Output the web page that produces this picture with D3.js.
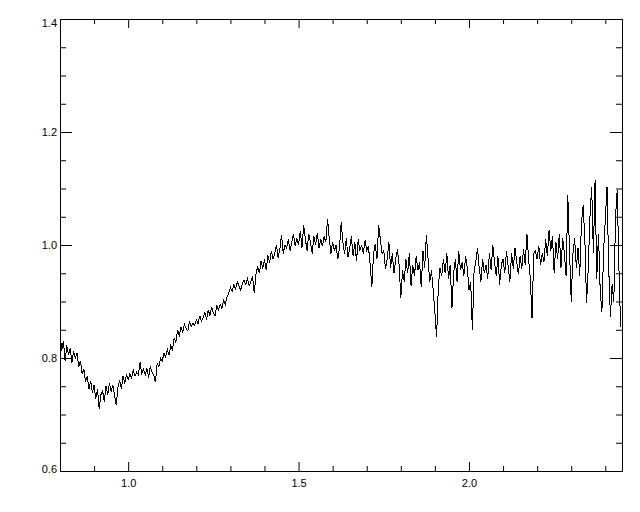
<!DOCTYPE html>
<html>
<head>
<meta charset="utf-8">
<script src="https://cdn.jsdelivr.net/npm/d3@7"></script>
<style>
  html, body { margin: 0; padding: 0; background: #fff; }
  svg { display: block; }
  .axis text { font-family: "Liberation Sans", Arial, sans-serif; font-size: 11px; fill: #000; }
  .axis line { stroke: #000; }
</style>
</head>
<body>
<svg width="640" height="512"></svg>
<script>
// wavelength grid: 0.800 .. 2.445, step 0.005
const xStart = 0.8, xStep = 0.005;

// flux values, 10 per 0.05 step
const flux = [
  0.848, 0.812, 0.830, 0.795, 0.822, 0.805, 0.818, 0.792, 0.812, 0.800,
  0.808, 0.785, 0.795, 0.772, 0.780, 0.758, 0.768, 0.745, 0.760, 0.738,
  0.752, 0.728, 0.745, 0.710, 0.735, 0.742, 0.722, 0.750, 0.735, 0.755,
  0.740, 0.752, 0.735, 0.717, 0.748, 0.760, 0.745, 0.768, 0.755, 0.770,
  0.762, 0.772, 0.765, 0.778, 0.768, 0.775, 0.770, 0.792, 0.772, 0.780,
  0.770, 0.782, 0.765, 0.785, 0.775, 0.770, 0.757, 0.790, 0.785, 0.800,
  0.795, 0.808, 0.802, 0.815, 0.805, 0.822, 0.815, 0.835, 0.828, 0.850,
  0.838, 0.855, 0.845, 0.860, 0.852, 0.848, 0.865, 0.855, 0.862, 0.858,
  0.868, 0.860, 0.875, 0.865, 0.872, 0.880, 0.868, 0.885, 0.875, 0.890,
  0.880, 0.875, 0.892, 0.885, 0.895, 0.888, 0.902, 0.895, 0.908, 0.915,
  0.925, 0.918, 0.930, 0.922, 0.935, 0.928, 0.920, 0.932, 0.938, 0.930,
  0.940, 0.928, 0.935, 0.945, 0.915, 0.948, 0.962, 0.950, 0.972, 0.958,
  0.975, 0.955, 0.982, 0.968, 0.990, 0.975, 0.985, 1.000, 0.978, 0.992,
  1.018, 0.985, 1.000, 0.995, 1.010, 0.990, 1.005, 1.020, 0.998, 1.012,
  1.000, 1.025, 0.995, 1.035, 1.010, 0.990, 1.020, 1.005, 0.985, 1.015,
  1.000, 1.022, 0.995, 1.010, 0.998, 1.015, 1.005, 1.046, 1.012, 0.985,
  1.005, 0.990, 1.000, 0.975, 0.995, 1.040, 1.005, 0.985, 1.012, 0.978,
  0.995, 1.015, 0.980, 1.005, 0.972, 1.010, 0.990, 1.000, 0.985, 1.008,
  0.990, 0.998, 0.965, 0.925, 0.985, 1.002, 0.975, 1.035, 1.010, 0.985,
  0.990, 0.958, 0.975, 1.005, 0.960, 0.985, 0.950, 0.975, 0.992, 0.965,
  0.906, 0.955, 0.935, 0.975, 0.950, 0.985, 0.928, 0.965, 0.945, 0.980,
  0.955, 0.970, 0.925, 0.990, 0.960, 1.018, 0.975, 0.935, 0.955, 0.920,
  0.880, 0.837, 0.925, 0.960, 0.945, 0.975, 0.950, 0.985, 0.940, 0.965,
  0.888, 0.950, 0.975, 0.935, 0.990, 0.955, 0.970, 0.945, 0.980, 0.960,
  0.920, 0.935, 0.850, 0.955, 0.970, 0.995, 0.960, 0.935, 0.975, 0.950,
  0.965, 0.940, 0.985, 0.955, 1.000, 0.970, 0.945, 0.980, 0.930, 0.965,
  0.975, 0.950, 0.990, 0.962, 0.935, 0.985, 0.958, 0.995, 0.970, 0.948,
  0.980, 0.958, 0.992, 0.965, 1.020, 0.975, 0.940, 0.870, 0.985, 0.990,
  0.975, 0.998, 0.965, 0.985, 0.970, 1.010, 0.980, 1.027, 0.990, 1.015,
  0.950, 1.005, 0.975, 1.020, 0.960, 1.012, 0.985, 0.945, 1.088, 0.990,
  0.900, 0.985, 1.012, 0.960, 0.995, 0.945, 1.040, 1.070, 1.010, 0.897,
  0.960, 1.050, 1.103, 0.985, 1.115, 0.940, 1.020, 0.920, 0.881, 0.990,
  1.044, 1.103, 0.960, 0.873, 0.930, 0.900, 1.050, 1.097, 0.960, 0.855
];

const xDomain = [0.8, 2.449],
      yDomain = [0.6, 1.4];

const xMajor = [1.0, 1.5, 2.0],
      xMinor = [0.9, 1.1, 1.2, 1.3, 1.4, 1.6, 1.7, 1.8, 1.9, 2.1, 2.2, 2.3, 2.4],
      yMajor = [0.6, 0.8, 1.0, 1.2, 1.4],
      yMinor = [0.65, 0.7, 0.75, 0.85, 0.9, 0.95, 1.05, 1.1, 1.15, 1.25, 1.3, 1.35];

function draw () {
  let svg = d3.select('svg');

  let box = {left: 60, top: 19, right: 622, bottom: 471};

  let x = d3.scaleLinear().domain(xDomain).range([box.left, box.right]),
      y = d3.scaleLinear().domain(yDomain).range([box.bottom, box.top]);

  let data = flux.map((v, i) => ({w: xStart + i * xStep, f: v}));

  svg.append('clipPath').attr('id', 'plot')
    .append('rect')
      .attr('x', box.left).attr('y', box.top)
      .attr('width', box.right - box.left).attr('height', box.bottom - box.top);

  // Spectrum (aliased, like the original raster plot)
  let line = d3.line().x(d => x(d.w)).y(d => y(d.f));

  svg.append('path')
    .datum(data)
    .attr('clip-path', 'url(#plot)')
    .attr('fill', 'none')
    .attr('stroke', '#000')
    .attr('stroke-width', 1)
    .attr('shape-rendering', 'crispEdges')
    .attr('d', line);

  // Axes, ticks pointing inward on all four sides
  const axis = (gen, tx, ty) =>
    svg.append('g').attr('class', 'axis')
      .attr('transform', `translate(${tx}, ${ty})`)
      .call(gen)
      .call(g => g.select('.domain').remove());

  axis(d3.axisLeft(y).tickValues(yMajor).tickSize(-12).tickPadding(3).tickFormat(d3.format('.1f')), box.left, 0)
    .selectAll('.tick text')
      .attr('y', d => d === 1.4 ? 4 : d === 0.6 ? -2 : 0);
  axis(d3.axisLeft(y).tickValues(yMinor).tickSize(-6).tickFormat(''), box.left, 0);
  axis(d3.axisRight(y).tickValues(yMajor).tickSize(-12).tickFormat(''), box.right, 0);
  axis(d3.axisRight(y).tickValues(yMinor).tickSize(-6).tickFormat(''), box.right, 0);

  axis(d3.axisBottom(x).tickValues(xMajor).tickSize(-9).tickPadding(8).tickFormat(d3.format('.1f')), 0, box.bottom);
  axis(d3.axisBottom(x).tickValues(xMinor).tickSize(-5).tickFormat(''), 0, box.bottom);
  axis(d3.axisTop(x).tickValues(xMajor).tickSize(-9).tickFormat(''), 0, box.top);
  axis(d3.axisTop(x).tickValues(xMinor).tickSize(-5).tickFormat(''), 0, box.top);

  // Frame
  svg.append('rect')
    .attr('x', box.left + 0.5).attr('y', box.top + 0.5)
    .attr('width', box.right - box.left).attr('height', box.bottom - box.top)
    .attr('fill', 'none')
    .attr('stroke', '#000');
}

document.addEventListener('DOMContentLoaded', draw);
</script>
</body>
</html>
